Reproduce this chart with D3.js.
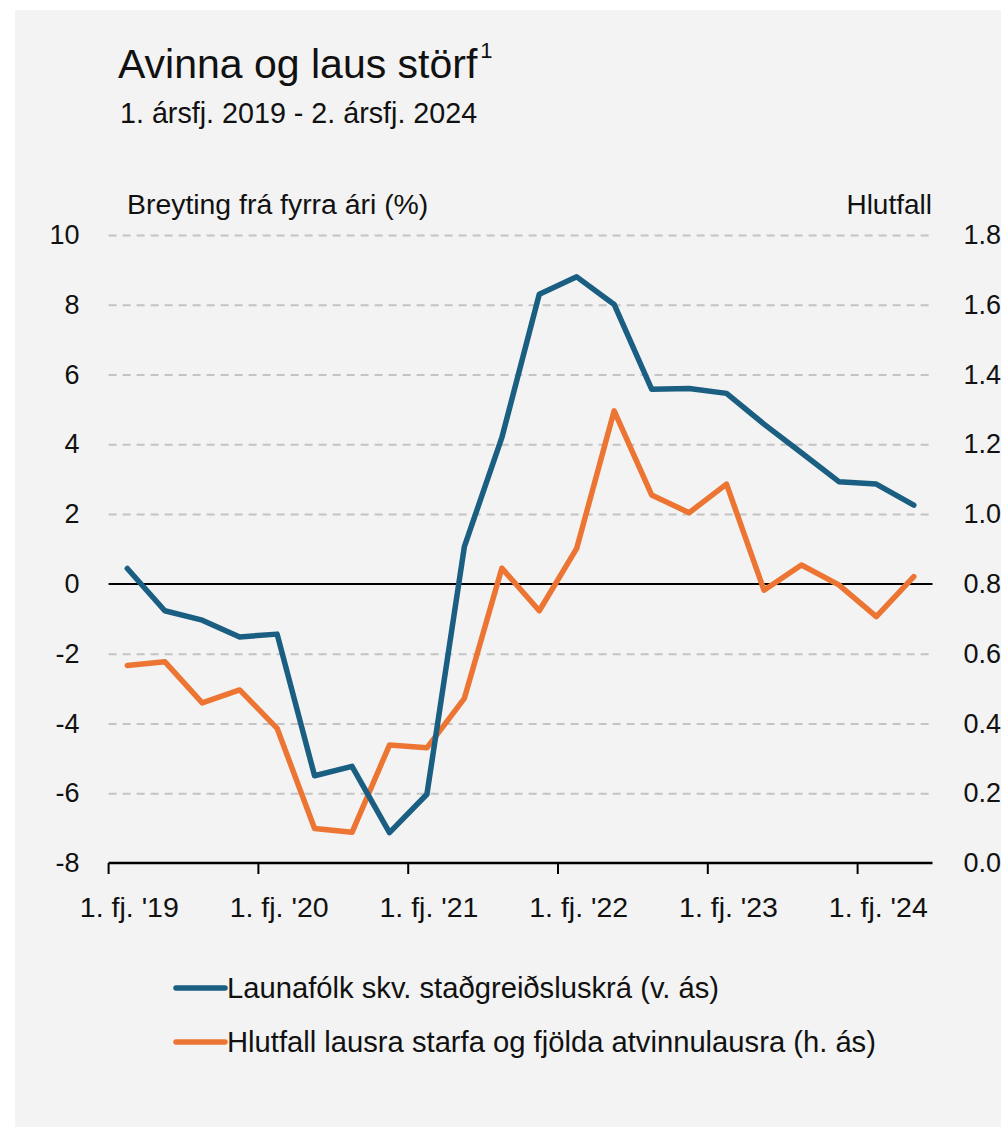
<!DOCTYPE html>
<html>
<head>
<meta charset="utf-8">
<script src="https://cdn.jsdelivr.net/npm/d3@7"></script>
<style>
  body { margin: 0; background: #ffffff; }
  svg text { font-family: "Liberation Sans", Arial, sans-serif; fill: #111; }
</style>
</head>
<body>
<div id="chart"></div>
<script>
// Quarters, 1. ársfj. 2019 - 2. ársfj. 2024
var quarters = ["2019Q1","2019Q2","2019Q3","2019Q4",
                "2020Q1","2020Q2","2020Q3","2020Q4",
                "2021Q1","2021Q2","2021Q3","2021Q4",
                "2022Q1","2022Q2","2022Q3","2022Q4",
                "2023Q1","2023Q2","2023Q3","2023Q4",
                "2024Q1","2024Q2"];

// Launafólk skv. staðgreiðsluskrá (v. ás), % change y/y
var launafolk = [0.44, -0.77, -1.04, -1.52, -1.44, -5.50, -5.23, -7.13, -6.03,
                 1.07, 4.19, 8.30, 8.80, 8.01, 5.58, 5.60, 5.46, 4.58, 3.76,
                 2.93, 2.86, 2.26];

// Hlutfall lausra starfa og fjölda atvinnulausra (h. ás)
var hlutfall = [0.566, 0.577, 0.459, 0.496, 0.386, 0.099, 0.088, 0.338, 0.330,
                0.472, 0.845, 0.723, 0.902, 1.296, 1.055, 1.004, 1.086, 0.782,
                0.854, 0.797, 0.706, 0.821];

var leftTicks = [-8, -6, -4, -2, 0, 2, 4, 6, 8, 10];
var rightTicks = [0, 0.2, 0.4, 0.6, 0.8, 1.0, 1.2, 1.4, 1.6, 1.8];
var yearQuarters = ["2019Q1","2020Q1","2021Q1","2022Q1","2023Q1","2024Q1"];
var yearLabels = ["1. fj. '19","1. fj. '20","1. fj. '21","1. fj. '22","1. fj. '23","1. fj. '24"];

var legendItems = [
  {name: "Launafólk skv. staðgreiðsluskrá (v. ás)", color: "#1a5e82"},
  {name: "Hlutfall lausra starfa og fjölda atvinnulausra (h. ás)", color: "#ec7533"}
];

var W = 1001, H = 1127;
var margin = {left: 108.6, top: 235, right: 68.5, bottom: 264};
var width = W - margin.left - margin.right;
var height = H - margin.top - margin.bottom;

var svg = d3.select("#chart").append("svg")
  .attr("width", W)
  .attr("height", H);

// panel background
svg.append("rect")
  .attr("x", 15).attr("y", 10)
  .attr("width", W - 15).attr("height", H - 10)
  .attr("fill", "#f3f3f3");

// titles
var title = svg.append("text")
  .attr("x", 118).attr("y", 78)
  .style("font-size", "41px")
  .text("Avinna og laus störf");
title.append("tspan")
  .attr("dx", 3)
  .attr("dy", -20)
  .style("font-size", "22px")
  .text("1");

svg.append("text")
  .attr("x", 120).attr("y", 123)
  .style("font-size", "28.7px")
  .text("1. ársfj. 2019 - 2. ársfj. 2024");

svg.append("text")
  .attr("x", 127).attr("y", 214)
  .style("font-size", "28.4px")
  .text("Breyting frá fyrra ári (%)");

svg.append("text")
  .attr("x", 932).attr("y", 214)
  .attr("text-anchor", "end")
  .style("font-size", "28px")
  .text("Hlutfall");

var g = svg.append("g")
  .attr("transform", "translate(" + margin.left + "," + margin.top + ")");

// Scales
var x = d3.scaleBand().domain(quarters).range([0, width]);
var yL = d3.scaleLinear().domain([-8, 10]).range([height, 0]);
var yR = d3.scaleLinear().domain([0, 1.8]).range([height, 0]);
var cx = function(q) { return x(q) + x.bandwidth() / 2; };

// Gridlines
var grid = g.append("g")
  .call(d3.axisLeft(yL).tickValues(leftTicks.filter(function(d) { return d !== 0 && d !== -8; }))
    .tickSize(-width).tickFormat(""));
grid.select(".domain").remove();
grid.selectAll("line")
  .attr("stroke", "#c4c4c4")
  .attr("stroke-width", 2)
  .attr("stroke-dasharray", "8,6");

// Zero line
g.append("line")
  .attr("x1", 0).attr("x2", width)
  .attr("y1", yL(0)).attr("y2", yL(0))
  .attr("stroke", "#000").attr("stroke-width", 2);

// Left axis labels (plain hyphen for minus, as in the original)
var axL = g.append("g")
  .attr("transform", "translate(-29,0)")
  .call(d3.axisLeft(yL).tickValues(leftTicks).tickSize(0).tickPadding(0)
    .tickFormat(function(d) { return String(d); }));
axL.select(".domain").remove();
axL.selectAll("text")
  .style("font-size", "27px")
  .style("font-family", "Liberation Sans, Arial, sans-serif")
  .attr("fill", "#111");

// Right axis labels
var axR = g.append("g")
  .attr("transform", "translate(" + (width + 31) + ",0)")
  .call(d3.axisRight(yR).tickValues(rightTicks).tickSize(0).tickPadding(0).tickFormat(d3.format(".1f")));
axR.select(".domain").remove();
axR.selectAll("text")
  .style("font-size", "27px")
  .style("font-family", "Liberation Sans, Arial, sans-serif")
  .attr("fill", "#111");

// Bottom axis: line, year ticks at band start, labels at first quarter centre
g.append("line")
  .attr("x1", 0).attr("x2", width)
  .attr("y1", height).attr("y2", height)
  .attr("stroke", "#000").attr("stroke-width", 2.5);

g.selectAll(".ytick")
  .data(yearQuarters)
  .enter().append("line")
  .attr("x1", function(d) { return x(d); })
  .attr("x2", function(d) { return x(d); })
  .attr("y1", height).attr("y2", height + 11)
  .attr("stroke", "#000").attr("stroke-width", 2);

g.selectAll(".ylab")
  .data(yearQuarters)
  .enter().append("text")
  .attr("x", function(d) { return cx(d) + 2; })
  .attr("y", height + 54)
  .attr("text-anchor", "middle")
  .style("font-size", "28.5px")
  .text(function(d, i) { return yearLabels[i]; });

// Lines
var lineL = d3.line()
  .x(function(d, i) { return cx(quarters[i]); })
  .y(function(d) { return yL(d); });
var lineR = d3.line()
  .x(function(d, i) { return cx(quarters[i]); })
  .y(function(d) { return yR(d); });

g.append("path")
  .datum(hlutfall)
  .attr("d", lineR)
  .attr("fill", "none")
  .attr("stroke", legendItems[1].color)
  .attr("stroke-width", 5.5)
  .attr("stroke-linejoin", "round")
  .attr("stroke-linecap", "round");

g.append("path")
  .datum(launafolk)
  .attr("d", lineL)
  .attr("fill", "none")
  .attr("stroke", legendItems[0].color)
  .attr("stroke-width", 5.5)
  .attr("stroke-linejoin", "round")
  .attr("stroke-linecap", "round");

// Legend
var leg = svg.selectAll(".legend")
  .data(legendItems)
  .enter().append("g")
  .attr("transform", function(d, i) { return "translate(176," + (988 + i * 54) + ")"; });

leg.append("line")
  .attr("x1", 0).attr("x2", 49)
  .attr("y1", 0).attr("y2", 0)
  .attr("stroke", function(d) { return d.color; })
  .attr("stroke-width", 5.5)
  .attr("stroke-linecap", "round");

leg.append("text")
  .attr("x", 51).attr("y", 10)
  .style("font-size", "29.2px")
  .text(function(d) { return d.name; });
</script>
</body>
</html>
